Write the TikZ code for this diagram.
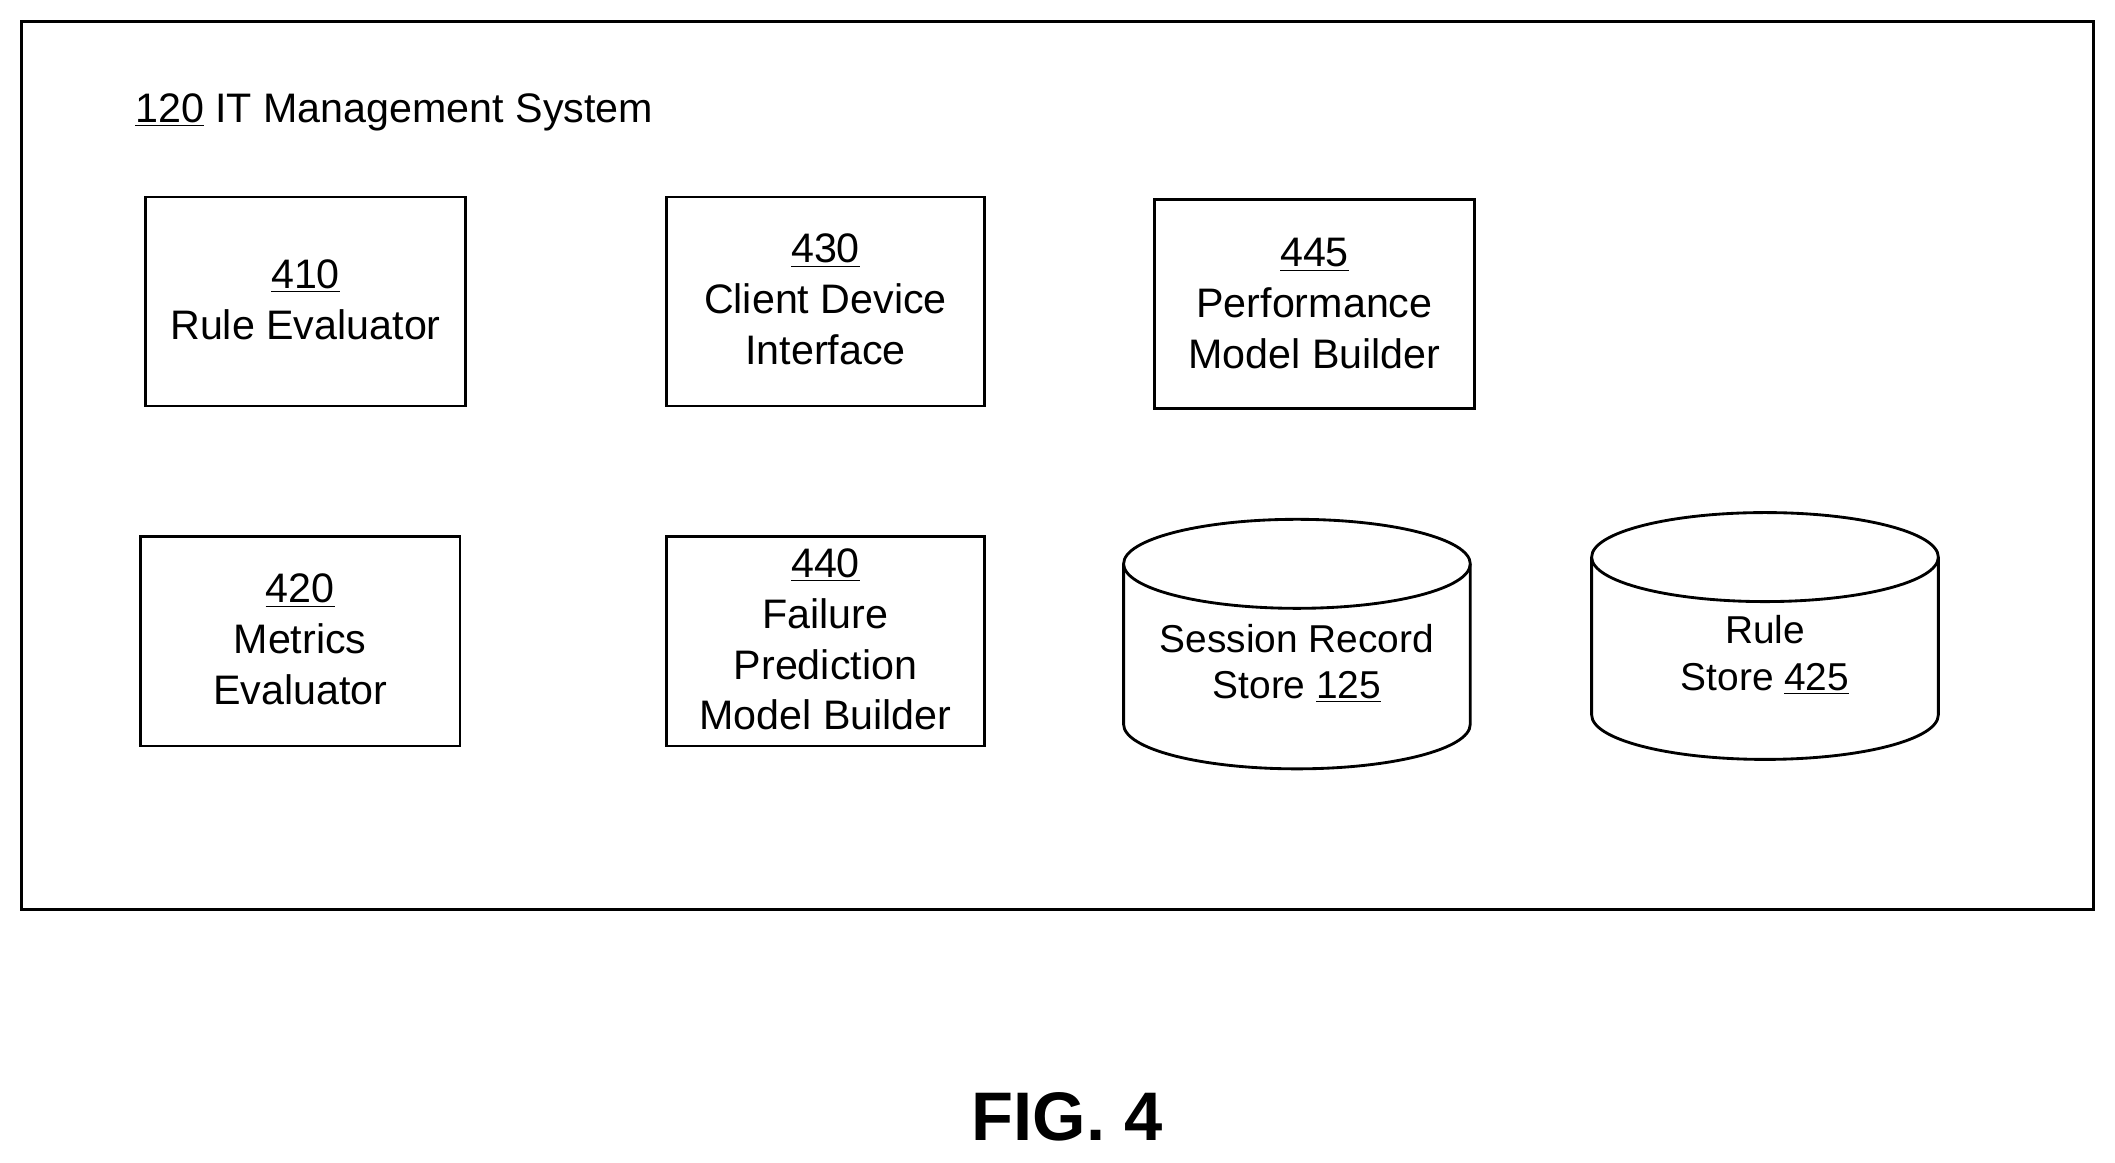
\documentclass[tikz,border=0pt]{standalone}
\usepackage{fontspec}
\setmainfont{Liberation Sans}
\begin{document}
\begin{tikzpicture}[x=0.02cm,y=-0.02cm,
  box/.style={draw,line width=1.2pt},
  lbl/.style={align=center,font=\fontsize{17.4}{21.5}\selectfont},
  clbl/.style={align=center,font=\fontsize{16.4}{19.5}\selectfont},
  cyl/.style={draw,line width=1.2pt,fill=white}]
\useasboundingbox (0,0) rectangle (1568,862);
\draw[box] (16,16) rectangle (1552,674);
\node[anchor=west,font=\fontsize{17.4}{20}\selectfont] (title) at (94,83) {\underline{120} IT Management System};
\draw[box] (108,146) rectangle (345,301);
\node[lbl] (n410) at (226.5,222) {\underline{410}\\Rule Evaluator};
\draw[box] (494,146) rectangle (730,301);
\node[lbl] (n430) at (612,222) {\underline{430}\\Client Device\\Interface};
\draw[box] (856,148) rectangle (1093,303);
\node[lbl] (n445) at (974.5,225) {\underline{445}\\Performance\\Model Builder};
\draw[box] (104,398) rectangle (341,553);
\node[lbl] (n420) at (222.5,474) {\underline{420}\\Metrics\\Evaluator};
\draw[box] (494,398) rectangle (730,553);
\node[lbl] (n440) at (612,474) {\underline{440}\\Failure\\Prediction\\Model Builder};
% cylinder 1
\draw[cyl] (833,418) -- (833,537) arc[start angle=180,end angle=0,x radius=128.5,y radius=33] -- (1090,418);
\draw[cyl] (961.5,418) ellipse[x radius=128.5,y radius=33];
\node[clbl] (s125) at (961.5,492) {Session Record\\Store \underline{125}};
% cylinder 2
\draw[cyl] (1180,413) -- (1180,530) arc[start angle=180,end angle=0,x radius=128.5,y radius=33] -- (1437,413);
\draw[cyl] (1308.5,413) ellipse[x radius=128.5,y radius=33];
\node[clbl] (s425) at (1308.5,486) {Rule\\Store \underline{425}};
\node[font=\bfseries\fontsize{29}{32}\selectfont] (fig) at (791,828) {FIG. 4};
\end{tikzpicture}
\end{document}
